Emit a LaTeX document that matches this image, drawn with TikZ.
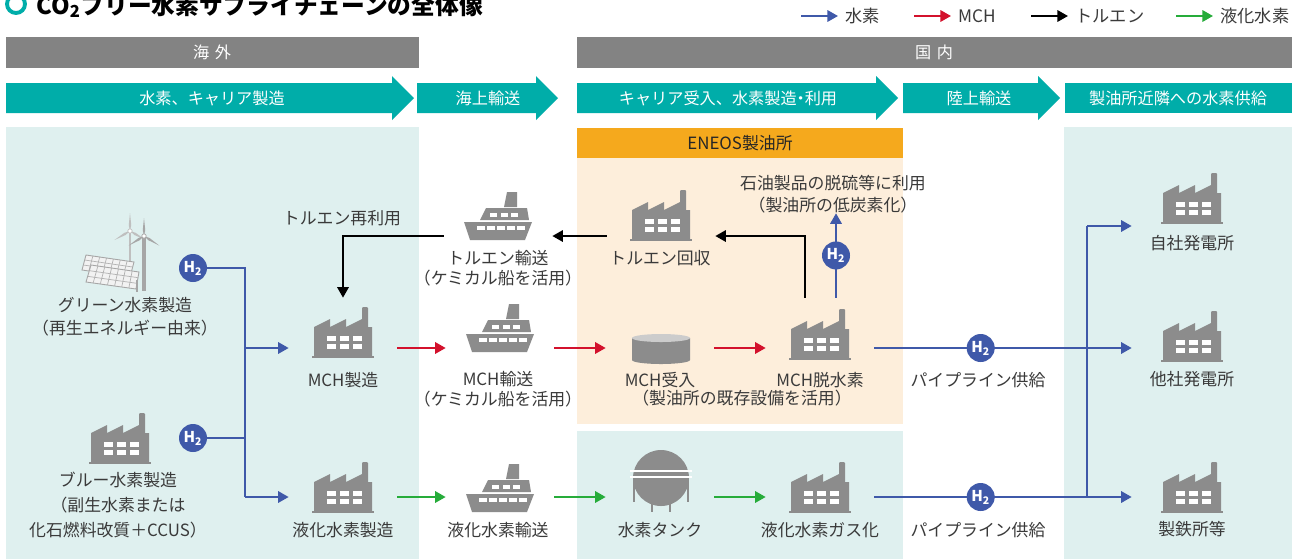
\documentclass[tikz,border=0pt]{standalone}
\usepackage{fontspec}
\setmainfont{Noto Sans CJK JP}
\usetikzlibrary{arrows.meta,calc}
\definecolor{stage}{HTML}{00ADA9}
\definecolor{region}{HTML}{838383}
\definecolor{bgteal}{HTML}{DFF0EF}
\definecolor{bgorange}{HTML}{FDEEDB}
\definecolor{eneos}{HTML}{F5A91D}
\definecolor{icongray}{HTML}{8C8C8C}
\definecolor{h2blue}{HTML}{3F59A9}
\definecolor{mchred}{HTML}{D3112C}
\definecolor{lhgreen}{HTML}{26AC3A}
\definecolor{ink}{HTML}{3A3A3A}

\begin{document}
\begin{tikzpicture}[x=0.02cm, y=-0.02cm,
    lbl/.style={font=\fontsize{9.6}{11.4}\selectfont, text=ink, align=center, inner sep=0pt},
    band/.style={font=\fontsize{9.2}{11}\selectfont, text=white, inner sep=0pt},
    legend/.style={font=\fontsize{9.8}{11}\selectfont, text=ink, anchor=west, inner sep=0pt},
    station/.style={minimum width=2.16cm, minimum height=2cm, inner sep=0pt},
    h2/.style={circle, fill=h2blue, text=white, minimum size=0.56cm, inner sep=0pt,
               font=\bfseries\fontsize{8.5}{8.5}\selectfont},
    arr/.style={-{Triangle[length=6pt,width=6.5pt]}},
    flow/.style={line width=1.1pt},
    bline/.style={flow, h2blue},
    barr/.style={bline, arr},
    rarr/.style={flow, mchred, arr},
    tarr/.style={flow, black, arr},
    garr/.style={flow, lhgreen, arr},
    factory/.pic={
      \fill[icongray] (-29,0) -- (-29,-30) -- (-13,-38) -- (-13,-30) -- (3,-38) -- (3,-30)
        -- (19,-38) -- (19,-49) -- (20,-50) -- (24,-50) -- (25,-49) -- (25,-30) -- (29,-30) -- (29,0) -- cycle;
      \fill[icongray] (-31,-1) rectangle (31,1);
      \foreach \wx in {-12,1,14}
        \foreach \wy in {-19,-11}
          \fill[white] (\wx-4.5,\wy-2.5) rectangle (\wx+4.5,\wy+2.5);
    },
    ship/.pic={
      \fill[icongray] (-34,-18) -- (34,-18) -- (27,0) -- (-28,0) -- cycle;
      \fill[icongray] (-18,-20) -- (-12,-32) -- (29,-32) -- (31,-20) -- cycle;
      \fill[icongray] (6,-33) -- (9,-48) -- (19,-48) -- (19,-33) -- cycle;
      \foreach \wx in {-4.5,6,16.5}
        \fill[white] (\wx-3.5,-27) rectangle (\wx+3.5,-23);
      \foreach \wx in {-17,-7,3,13,23}
        \fill[white] (\wx-4,-14) rectangle (\wx+4,-10);
    }]

    \useasboundingbox (0,0) rectangle (1301,559);
    \fill[white] (0,0) rectangle (1301,559);

    % Title
    \draw[stage, line width=2.2pt] (16,4) circle (9);
    \node[anchor=base west, inner sep=0pt, font=\bfseries\fontsize{13.5}{14}\selectfont] (title) at (36,14)
        {CO\textsubscript{2}フリー水素サプライチェーンの全体像};

    % Legend
    \coordinate (lgb) at (801,16);
    \coordinate (lgr) at (914,16);
    \coordinate (lgt) at (1031,16);
    \coordinate (lgg) at (1176,16);
    \node[legend] (lghy) at (845,16) {水素};
    \node[legend] (lgmch) at (958,16) {MCH};
    \node[legend] (lgtol) at (1075,16) {トルエン};
    \node[legend] (lglh) at (1220,16) {液化水素};
    \draw[barr, shorten >=4pt] (lgb) -- (lghy);
    \draw[rarr, shorten >=4pt] (lgr) -- (lgmch);
    \draw[tarr, shorten >=4pt] (lgt) -- (lgtol);
    \draw[garr, shorten >=4pt] (lgg) -- (lglh);

    % Regions
    \fill[region] (6,37) rectangle (419,68);
    \fill[region] (577,37) rectangle (1292,68);
    \node[band] (abroad) at (212,52.5) {海\hspace{0.35em}外};
    \node[band] (domestic) at (934,52.5) {国\hspace{0.35em}内};

    % Stages
    \foreach \xa/\xb in {6/392, 417/536, 577/876, 903/1038}
      \fill[stage] (\xa,83) -- (\xb,83) -- (\xb,76) -- (\xb+22,98) -- (\xb,120) -- (\xb,113) -- (\xa,113) -- cycle;
    \fill[stage] (1065,83) rectangle (1292,113);
    \node[band] (stprod) at (212,98) {水素、キャリア製造};
    \node[band] (stsea) at (488,98) {海上輸送};
    \node[band] (strecv) at (728,98) {キャリア受入、水素製造\kern-0.25em・\kern-0.25em利用};
    \node[band] (stland) at (979,98) {陸上輸送};
    \node[band] (stsupply) at (1178,98) {製油所近隣への水素供給};

    % Backgrounds
    \fill[bgteal] (6,127) rectangle (419,559);
    \fill[bgorange] (577,128) rectangle (903,424);
    \fill[eneos] (577,128) rectangle (903,158);
    \fill[bgteal] (577,431) rectangle (903,559);
    \fill[bgteal] (1064,127) rectangle (1292,559);
    \node[lbl, text=black!85] (refinery) at (740,143) {ENEOS製油所};

    % Wind and solar
    \draw[gray!50, line width=1.6pt] (130,231) -- (130,272);
    \foreach \a in {-90,150,30}
      \fill[gray!50] (130,231) -- +(\a+12:6) -- +(\a:18) -- +(\a-12:6) -- cycle;
    \filldraw[fill=white, draw=gray!50] (130,231) circle (2.2);
    \filldraw[fill=gray!10, draw=gray!70, line width=0.5pt] (86,255) -- (134,262) -- (130,277) -- (82,270) -- cycle;
    \foreach \i in {1,...,6}
      \draw[gray!60, line width=0.4pt] ($(86,255)!\i/7!(134,262)$) -- ($(82,270)!\i/7!(130,277)$);
    \foreach \j in {1,2}
      \draw[gray!60, line width=0.4pt] ($(86,255)!\j/3!(82,270)$) -- ($(134,262)!\j/3!(130,277)$);
    \filldraw[fill=gray!10, draw=gray!70, line width=0.5pt] (91,265) -- (139,272) -- (136,289) -- (86,282) -- cycle;
    \foreach \i in {1,...,6}
      \draw[gray!60, line width=0.4pt] ($(91,265)!\i/7!(139,272)$) -- ($(86,282)!\i/7!(136,289)$);
    \foreach \j in {1,2}
      \draw[gray!60, line width=0.4pt] ($(91,265)!\j/3!(86,282)$) -- ($(139,272)!\j/3!(136,289)$);
    \draw[gray!70, line width=0.8pt] (137,280) -- (137,292);
    \draw[gray!70, line width=2.2pt] (144,236) -- (144,291);
    \foreach \a in {-90,148,32}
      \fill[gray!70] (144,236) -- +(\a+12:6) -- +(\a:18) -- +(\a-12:6) -- cycle;
    \filldraw[fill=white, draw=gray!70] (144,236) circle (2.2);
    \node[lbl] (greenlbl) at (125,316.5) {グリーン水素製造\\[1.6pt]（再生エネルギー由来）};

    % Blue hydrogen
    \pic at (120,463) {factory};
    \node[lbl] (bluelbl) at (118,505.5) {ブルー水素製造\\[2.8pt]（副生水素または\\[2.8pt]化石燃料改質＋CCUS）};

    % Stations
    \node[station] (mchmake) at (343,348) {};
    \node[station] (mchship) at (500,348) {};
    \node[station] (mchin) at (660,348) {};
    \node[station] (dehyd) at (820,348) {};
    \node[station] (tolship) at (498,236) {};
    \node[station] (tolrec) at (661,236) {};
    \node[station] (liqmake) at (343,497) {};
    \node[station] (liqship) at (500,497) {};
    \node[station] (tank) at (660,497) {};
    \node[station] (gasify) at (820,497) {};
    \node[station] (own) at (1186,226) {};
    \node[station] (other) at (1186,348) {};
    \node[station] (steel) at (1186,497) {};

    \pic at (343,357) {factory};
    \pic at (500,352) {ship};
    \pic at (820,359) {factory};
    \pic at (498,240) {ship};
    \pic at (661,240) {factory};
    \pic at (343,512) {factory};
    \pic at (500,512) {ship};
    \pic at (820,512) {factory};
    \pic at (1192,223) {factory};
    \pic at (1192,361) {factory};
    \pic at (1192,512) {factory};

    % MCH tank
    \fill[icongray] (632,338) -- (632,360) arc[start angle=180, end angle=0, x radius=29, y radius=4] -- (690,338) -- cycle;
    \fill[gray!40] (661,338) ellipse [x radius=29, y radius=4];

    % Hydrogen tank
    \draw[icongray, line width=1.2pt] (634,480) -- (634,502);
    \draw[icongray, line width=1.2pt] (688,480) -- (688,502);
    \draw[icongray, line width=1.4pt] (652,500) -- (652,512);
    \draw[icongray, line width=1.4pt] (670,500) -- (670,512);
    \fill[icongray] (661,478) circle (28);
    \draw[white, line width=1pt] (630,471) -- (692,471);
    \draw[white, line width=1pt] (630,477) -- (692,477);

    % Labels
    \node[lbl] (mchmakelbl) at (343,380) {MCH製造};
    \node[lbl] (mchshiplbl) at (498,389.5) {MCH輸送\\（ケミカル船を活用）};
    \node[lbl] (mchinlbl) at (660,380) {MCH受入};
    \node[lbl] (facilbl) at (742,398) {（製油所の既存設備を活用）};
    \node[lbl] (dehydlbl) at (820,380) {MCH脱水素};
    \node[lbl] (tolshiplbl) at (498,268) {トルエン輸送\\（ケミカル船を活用）};
    \node[lbl] (tolreclbl) at (660,258) {トルエン回収};
    \node[lbl] (reuse) at (342,218) {トルエン再利用};
    \node[lbl] (use) at (833,194) {石油製品の脱硫等に利用\\[1.1pt]（製油所の低炭素化）};
    \node[lbl] (liqmakelbl) at (343,530) {液化水素製造};
    \node[lbl] (liqshiplbl) at (498,530) {液化水素輸送};
    \node[lbl] (tanklbl) at (660,530) {水素タンク};
    \node[lbl] (gasifylbl) at (820,530) {液化水素ガス化};
    \node[lbl] (pipe1lbl) at (978,380) {パイプライン供給};
    \node[lbl] (pipe2lbl) at (978,530) {パイプライン供給};
    \node[lbl] (ownlbl) at (1192,243) {自社発電所};
    \node[lbl] (otherlbl) at (1192,379) {他社発電所};
    \node[lbl] (steellbl) at (1192,529) {製鉄所等};

    % Hydrogen from overseas
    \node[h2] (h2g) at (193,268) {H\textsubscript{2}};
    \node[h2] (h2b) at (193,438) {H\textsubscript{2}};
    \coordinate (split) at (245,497);
    \draw[bline] (h2g) -| (split);
    \draw[bline] (h2b) -- (h2b -| split);
    \draw[barr] (split |- mchmake) -- (mchmake);
    \draw[barr] (split) -- (liqmake);

    % MCH chain
    \draw[rarr] (mchmake) -- (mchship);
    \draw[rarr] (mchship) -- (mchin);
    \draw[rarr] (mchin) -- (dehyd);

    % Toluene return
    \draw[tarr] ($(dehyd.north)+(-15,0)$) |- (tolrec);
    \draw[tarr] (tolrec) -- (tolship);
    \draw[tarr] (tolship) -| (mchmake);

    % Hydrogen used in the refinery
    \coordinate (dhup) at ($(dehyd.north)+(16,0)$);
    \draw[barr] (dhup) -- node[h2] (h2use) {H\textsubscript{2}} (dhup |- use.south);

    % Liquefied hydrogen chain
    \draw[garr] (liqmake) -- (liqship);
    \draw[garr] (liqship) -- (tank);
    \draw[garr] (tank) -- (gasify);

    % Pipelines
    \coordinate (trunk) at (1087,348);
    \draw[bline] (dehyd) -- node[h2] (h2pipe1) {H\textsubscript{2}} (dehyd -| trunk);
    \draw[bline] (gasify) -- node[h2] (h2pipe2) {H\textsubscript{2}} (gasify -| trunk);
    \draw[bline] (own -| trunk) -- (steel -| trunk);
    \draw[barr] (own -| trunk) -- (own);
    \draw[barr] (trunk) -- (other);
    \draw[barr] (steel -| trunk) -- (steel);
\end{tikzpicture}
\end{document}
